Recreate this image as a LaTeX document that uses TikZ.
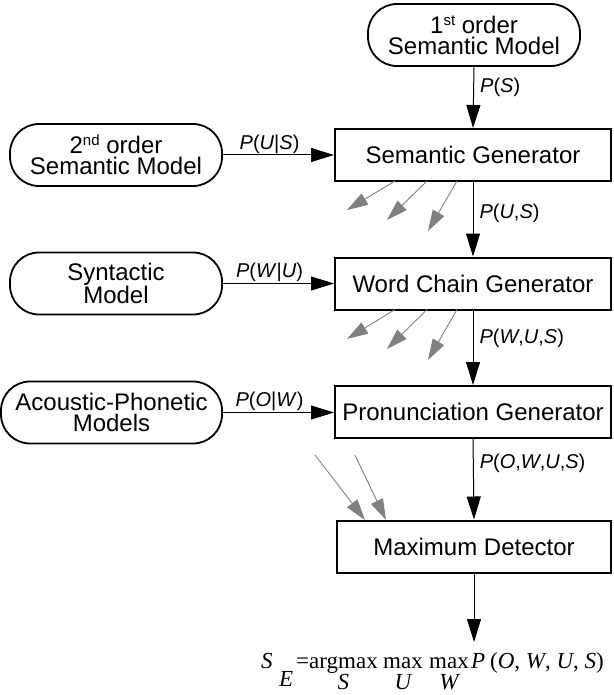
\documentclass[tikz,border=0pt]{standalone}
\usepackage{fontspec}
\setmainfont{Liberation Sans}
\newfontfamily\tmsfont{Liberation Serif}
\usetikzlibrary{arrows.meta}
\newcommand\iv[1]{\textit{#1}}
\newcommand\supx[1]{\raisebox{8pt}{\fontsize{15}{15}\selectfont #1}}
\begin{document}
\begin{tikzpicture}[x=1pt,y=-1pt,
  model/.style={draw,line width=1.8pt,rounded corners=29pt,minimum width=212pt,minimum height=62pt,inner sep=0pt,align=center,font=\fontsize{24}{21}\selectfont},
  gen/.style={draw,line width=2pt,minimum width=276pt,minimum height=52pt,inner sep=0pt,font=\fontsize{24}{28}\selectfont},
  flow/.style={line width=1pt,-{Triangle[length=23pt,width=14pt]}},
  grayarrow/.style={draw=gray,line width=0.9pt,-{Triangle[length=21pt,width=13pt]}},
  lab/.style={font=\fontsize{20}{24}\selectfont,inner sep=1pt},
  fmt/.style={inner sep=0pt,anchor=base west,font=\tmsfont\fontsize{23}{26}\selectfont},
  fsub/.style={inner sep=0pt,anchor=base,yshift=-21pt,font=\tmsfont\itshape\fontsize{23}{26}\selectfont}]
\useasboundingbox (0,0) rectangle (613,695);

\node[model] (m1) at (474,35) {1\supx{st} order\\Semantic Model};
\node[model] (m2) at (116,155) {2\supx{nd} order\\Semantic Model};
\node[model] (m3) at (116,283.5) {Syntactic\\Model};
\node[model,minimum width=221pt] (m4) at (111.5,412.5) {Acoustic-Phonetic\\Models};

\node[gen] (sg) at (473,155) {Semantic Generator};
\node[gen] (wc) at (473,283.5) {Word Chain Generator};
\node[gen] (pg) at (473,412) {Pronunciation Generator};
\node[gen,minimum width=274pt] (md) at (474,546.5) {Maximum Detector};

% result formula
\node[fmt] (fS) at (261,668) {\iv{S}};
\node[fmt] (fE) at (279,686) {\iv{E}};
\node[fmt] (fEq) at (296,668) {=};
\node[fmt] (fArg) at (309,668) {argmax};
\node[fmt] (fMaxU) at (383,668) {max};
\node[fmt] (fMaxW) at (429,668) {max};
\node[fmt] (fP) at (471,668) {\iv{P}};
\node[fmt] (fArgs) at (490,668) {(\iv{O}, \iv{W}, \iv{U}, \iv{S})};
\node[fsub] (sS) at (fArg.base) {S};
\node[fsub] (sU) at (fMaxU.base) {U};
\node[fsub] (sW) at (fMaxW.base) {W};
\coordinate (ftop) at (474,642);

\draw[flow] (m1.south) -- node[lab,anchor=west,pos=0.33,xshift=5pt] {\iv{P}(\iv{S})} (sg.north);
\draw[flow] (sg.south) -- node[lab,anchor=west,pos=0.42,xshift=5pt] {\iv{P}(\iv{U},\iv{S})} (wc.north);
\draw[flow] (wc.south) -- node[lab,anchor=west,pos=0.37,xshift=5pt] {\iv{P}(\iv{W},\iv{U},\iv{S})} (pg.north);
\draw[flow] (pg.south) -- node[lab,anchor=west,pos=0.3,xshift=5pt] {\iv{P}(\iv{O},\iv{W},\iv{U},\iv{S})} (md.north);
\draw[flow] (md.south) -- (ftop);

\draw[flow] (m2.east) -- node[lab,above,pos=0.42] {\iv{P}(\iv{U}|\iv{S})} (m2.east -| sg.west);
\draw[flow] (m3.east) -- node[lab,above,pos=0.42] {\iv{P}(\iv{W}|\iv{U})} (m3.east -| wc.west);
\draw[flow] (m4.east) -- node[lab,above,pos=0.42] {\iv{P}(\iv{O}|\iv{W})} (m4.east -| pg.west);

\coordinate (a1s) at (395,181);   \coordinate (a1e) at (347,210);
\coordinate (a2s) at (427,181);   \coordinate (a2e) at (387,220);
\coordinate (a3s) at (457,181);   \coordinate (a3e) at (428,231);
\coordinate (b1s) at (395,309.5); \coordinate (b1e) at (347,339);
\coordinate (b2s) at (427,309.5); \coordinate (b2e) at (387,349);
\coordinate (b3s) at (457,309.5); \coordinate (b3e) at (428,360);
\coordinate (c1s) at (315,455);   \coordinate (c1e) at (365,520);
\coordinate (c2s) at (355,455);   \coordinate (c2e) at (386,520);
\foreach \p in {a1,a2,a3,b1,b2,b3,c1,c2}
  \draw[grayarrow] (\p s) -- (\p e);
\end{tikzpicture}
\end{document}
